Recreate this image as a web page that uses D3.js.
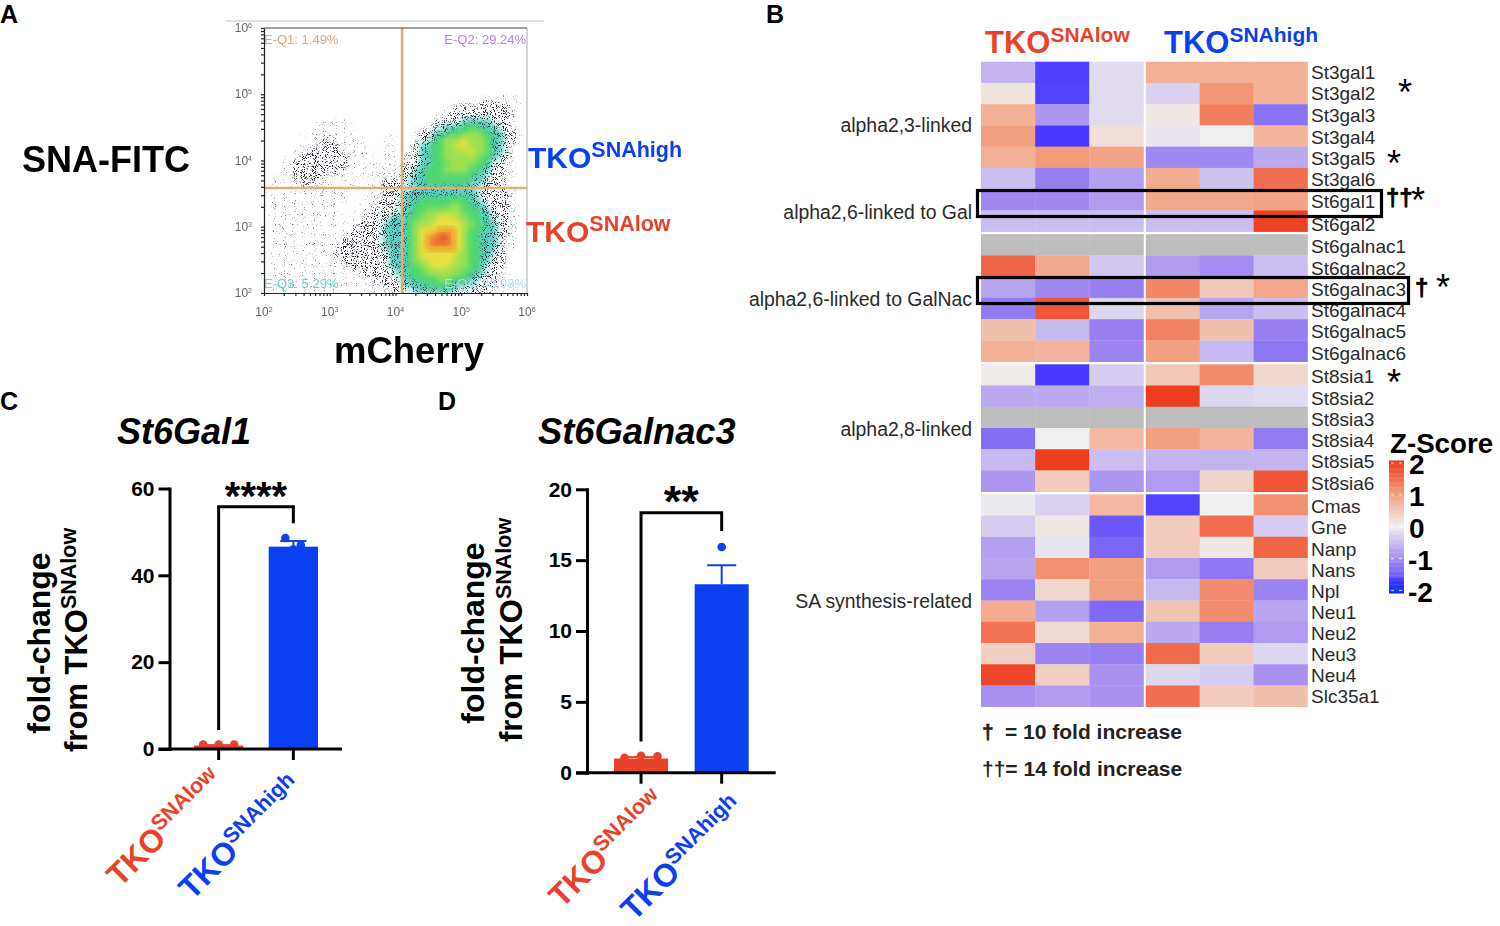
<!DOCTYPE html>
<html>
<head>
<meta charset="utf-8">
<script src="https://cdn.jsdelivr.net/npm/d3@7"></script>
<style>
  html, body { margin: 0; padding: 0; background: #fff; }
  svg { display: block; }
  text { font-family: "Liberation Sans", Arial, sans-serif; fill: #000; }
</style>
</head>
<body>
<svg id="chart" width="1500" height="926"></svg>
<script>
// ---- heatmap data (z-scores, null = no data) ----
const heatGenes = ["St3gal1","St3gal2","St3gal3","St3gal4","St3gal5","St3gal6","St6gal1","St6gal2",
  "St6galnac1","St6galnac2","St6galnac3","St6galnac4","St6galnac5","St6galnac6",
  "St8sia1","St8sia2","St8sia3","St8sia4","St8sia5","St8sia6",
  "Cmas","Gne","Nanp","Nans","Npl","Neu1","Neu2","Neu3","Neu4","Slc35a1"];
const heatGroupSizes = [8, 6, 6, 10];
const heatLow = [
  [-0.6,-1.9,-0.2],[0.15,-1.85,-0.2],[0.8,-0.9,-0.2],[1.0,-1.95,0.2],[0.8,1.05,0.95],[-0.5,-1.15,-0.8],[-1.05,-1.05,-0.85],[-0.5,-0.5,-0.5],
  [null,null,null],[1.6,0.9,-0.4],[-0.75,-1.05,-1.15],[-1.2,1.75,-0.25],[0.6,-0.55,-1.15],[0.8,0.75,-1.1],
  [0.05,-1.95,-0.35],[-0.7,-0.7,-0.65],[null,null,null],[-1.35,0,0.7],[-0.55,2,-0.5],[-0.9,0.45,-0.9],
  [-0.05,-0.3,0.7],[-0.35,0.1,-1.6],[-0.8,-0.1,-1.45],[-0.75,1.15,1.0],[-1.1,0.3,1.0],[0.85,-0.8,-1.4],[1.45,0.25,0.8],[0.4,-1.1,-1.15],[1.9,0.4,-0.95],[-0.95,-0.85,-0.95]
];
const heatHigh = [
  [0.8,0.8,0.8],[-0.3,1.1,0.8],[0.1,1.35,-1.3],[-0.1,0,0.75],[-1.05,-1.05,-0.7],[0.85,-0.45,1.5],[0.9,0.9,0.95],[-0.5,-0.5,1.95],
  [null,null,null],[-0.85,-1.0,-0.5],[1.25,0.5,0.9],[0.6,-0.75,-0.5],[1.3,0.6,-1.15],[1.0,-0.55,-1.25],
  [0.5,1.2,0.3],[2,-0.25,-0.2],[null,null,null],[1.0,0.75,-1.2],[-0.6,-0.6,-0.6],[-0.85,0.35,1.75],
  [-1.85,0,1.15],[0.45,1.5,-0.35],[0.45,0.1,1.6],[-0.85,-1.25,0.45],[-0.55,1.2,-1.1],[0.55,1.2,-0.75],[-0.7,-1.15,-0.85],[1.55,0.45,-0.25],[-0.25,-0.35,-0.95],[1.5,0.45,0.6]
];
const zStops = [-2,-1,0,1,2];
const zColors = ["#4636ff","#a58cf0","#efefef","#f3a080","#ee3d1f"];
const zTicks = [2,1,0,-1,-2];

// ---- bar data ----
const barCats = ["low","high"];
const gal1Means = [0.8, 46.6];
const gal1Errs = [0.1, 1.3];
const gal1Low = [1.0, 1.0, 1.0];
const gal1High = [48.6, 47.0, 46.0];
const gal1Ticks = [0,20,40,60];
const gal1Bracket = [4.4, 55.8, 52];
const nac3Means = [1.0, 13.3];
const nac3Errs = [0.1, 1.34];
const nac3Low = [1.05, 1.2, 1.15];
const nac3High = [15.93];
const nac3Ticks = [0,5,10,15,20];
const nac3Bracket = [2.2, 18.35, 17.05];

// ---- flow plot: density level per cell
// (0 empty, 1 sparse dots, 2 dense dots, 3 teal, 4 green, 5 lime, 6 yellow, 7 orange, 8 red), top row first
const flowDensity = [
"00000000000 00000000000 00000000000 00000000000",
"00000000000 00000000000 00000000000 00000000000",
"00000000000 00000000000 00000000000 00000000000",
"00000000000 00000000000 00000000000 00000000000",
"00000000000 00000000000 00000000000 00000000000",
"00000000000 00000000000 00000000000 00000000000",
"00000000000 00000000000 00000000000 00000000000",
"00000000000 00000000000 00000000000 00000000000",
"00000000000 00000000000 00000000000 00000000000",
"00000000000 00000000000 00000000000 00000000000",
"00000000000 00000000000 00000000000 00000000000",
"00000000000 00000000000 00000000000 00001111110",
"00000000000 00000000000 00000000001 11122222110",
"00000000000 00000000000 00000000112 22222222110",
"00000000000 00000000000 00000001122 22222222100",
"00000000010 10100000000 00000012222 33333222100",
"00000000011 11110000000 00000122333 44433322100",
"00000001111 11110000001 00012233344 45544332210",
"00000011112 11111000011 00012234555 65554332210",
"00000111122 21111100011 00123344556 65554332100",
"00000112222 22111110011 00123344555 56554332100",
"00001122222 22211110111 01223344555 55544322100",
"00011222222 22211111111 01223344455 55443221100",
"00011222222 22111110111 12233444555 54433221100",
"00111222221 11111101111 12233444444 44332221100",
"01111122211 11111011122 12333444444 43332221000",
"01111111111 11110011122 22233333333 33222221100",
"11111111111 11100011122 23333333333 33322222110",
"11111111111 11100011222 23334444444 43322222110",
"11111111111 11000111222 23344444455 44332222110",
"01111111111 11001112222 23344555555 44433222110",
"01111111111 10011122223 33445556665 54433222110",
"01101111111 10111222233 33455566666 55443322110",
"01111111111 11112222233 33456667776 54433322100",
"01111111111 11122222233 33456778876 54433321110",
"01111011111 11222222233 33456788876 54433321100",
"01111111111 12222222233 33456777776 54433321100",
"01110111111 12222222223 33456666665 54433221000",
"01111111111 11222222223 33455666665 54433221000",
"01101111111 11122222223 33445566655 54432221000",
"01111111111 11111222222 33444555555 44332211000",
"01111011111 11111112222 23344445544 43322211000",
"01111111111 11111111122 23333444433 33222211100",
"01111111111 11111111112 22233333332 22222111100"
];
const flowColors = {3:"#2cc0b0",4:"#4fd870",5:"#9fe050",6:"#e8e040",7:"#f0a030",8:"#e86030"};
const flowGateX = 12600;
const flowGateY = 3850;
const flowTicks = [1e2,1e3,1e4,1e5,1e6];
const flowTickExp = ["2","3","4","5","6"];
const flowQuads = ["E-Q1: 1.49%","E-Q2: 29.24%","E-Q3: 5.29%","E-Q4: 63.98%"];

const red = "#e8432a";
const blue = "#0a40f0";
const svg = d3.select("#chart");
const defs = svg.append("defs");

// text with a superscript part, e.g. TKO^SNAlow
function supText(x, y, main, sup, size, subSize, color, weight, rotate) {
  const t = svg.append("text")
    .attr("transform", `translate(${x},${y}) rotate(${rotate || 0})`)
    .attr("font-weight", weight || "bold")
    .style("fill", color);
  t.append("tspan").attr("font-size", size).text(main);
  t.append("tspan").attr("font-size", subSize).attr("dy", -size * 0.36).text(sup);
  return t;
}
function label(x, y, str, size, opts) {
  opts = opts || {};
  return svg.append("text").attr("x", x).attr("y", y).attr("font-size", size)
    .attr("font-weight", opts.weight || "normal")
    .attr("font-style", opts.style || "normal")
    .attr("text-anchor", opts.anchor || "start")
    .style("fill", opts.color || "#000")
    .style("stroke", opts.stroke ? (opts.color || "#000") : "none")
    .style("stroke-width", opts.stroke || 0)
    .text(str);
}

// panel letters
label(0, 23, "A", 25, {weight:"bold"});
label(766, 23, "B", 25, {weight:"bold"});
label(0, 410, "C", 25, {weight:"bold"});
label(438, 410, "D", 25, {weight:"bold"});

// ------- panel A flow plot -------
function drawFlow() {
  const blur = defs.append("filter").attr("id", "flowBlur").attr("x", "-5%").attr("y", "-5%").attr("width", "110%").attr("height", "110%");
  blur.append("feGaussianBlur").attr("stdDeviation", 3);
  const soft = defs.append("filter").attr("id", "soft");
  soft.append("feGaussianBlur").attr("stdDeviation", 0.55);

  // dot texture for the low density cells
  [["speckLow", "9 0 0 0 -5.8", "0.42"], ["speckHigh", "9 0 0 0 -5.0", "0.14"]].forEach(d => {
    const f = defs.append("filter").attr("id", d[0]).attr("x", 0).attr("y", 0).attr("width", 1).attr("height", 1)
      .attr("color-interpolation-filters", "sRGB");
    f.append("feGaussianBlur").attr("in", "SourceAlpha").attr("stdDeviation", 2.5).attr("result", "area");
    f.append("feTurbulence").attr("type", "fractalNoise").attr("baseFrequency", 1.1).attr("numOctaves", 1).attr("seed", 4).attr("result", "noise");
    f.append("feColorMatrix").attr("in", "noise").attr("type", "matrix")
      .attr("values", `0 0 0 0 ${d[2]} 0 0 0 0 ${d[2]} 0 0 0 0 ${+d[2] + 0.05} ${d[1]}`).attr("result", "dots");
    f.append("feComposite").attr("in", "dots").attr("in2", "area").attr("operator", "in");
  });

  const x = d3.scaleLog().domain([1e2, 1e6]).range([264, 527]);
  const y = d3.scaleLog().domain([1e2, 1e6]).range([293, 28]);
  const rows = flowDensity.map(r => r.replace(/ /g, "").split("").map(Number));
  const colBand = d3.scaleBand().domain(d3.range(44)).range(x.range());
  const rowBand = d3.scaleBand().domain(d3.range(44)).range(y.range().slice().reverse());
  const cells = [];
  rows.forEach((r, i) => r.forEach((v, j) => { if (v > 0) cells.push({i, j, v}); }));

  defs.append("clipPath").attr("id", "flowClip").append("rect")
    .attr("x", 264).attr("y", 28).attr("width", 263).attr("height", 265);

  svg.append("line").attr("x1", 225).attr("x2", 544).attr("y1", 21).attr("y2", 21).attr("stroke", "#c4c4c4");

  const plot = svg.append("g").attr("clip-path", "url(#flowClip)");
  const cell = (sel, data) => sel.selectAll("rect").data(data).enter().append("rect")
    .attr("x", d => colBand(d.j)).attr("y", d => rowBand(d.i))
    .attr("width", colBand.bandwidth() + 0.5).attr("height", rowBand.bandwidth() + 0.5);

  cell(plot.append("g").attr("filter", "url(#speckLow)"), cells.filter(d => d.v === 1));
  cell(plot.append("g").attr("filter", "url(#speckHigh)"), cells.filter(d => d.v >= 2));

  // colour levels stacked so that every ring blurs into the next
  d3.range(3, 9).forEach(level => {
    const layer = cell(plot.append("g").attr("filter", "url(#flowBlur)"), cells.filter(d => d.v >= level))
      .attr("fill", flowColors[level]);
    if (level === 3) {
      layer.attr("opacity", 0.75);
      // dark dots stay visible on the teal edge
      cell(plot.append("g").attr("filter", "url(#speckHigh)"), cells.filter(d => d.v === 2 || d.v === 3));
    }
  });

  // gates
  const gates = plot.append("g").attr("filter", "url(#soft)");
  gates.append("line").attr("x1", x(flowGateX)).attr("x2", x(flowGateX)).attr("y1", 28).attr("y2", 293)
    .attr("stroke", "#e0ac78").attr("stroke-width", 2.6);
  gates.append("line").attr("x1", 264).attr("x2", 527).attr("y1", y(flowGateY)).attr("y2", y(flowGateY))
    .attr("stroke", "#e0ac78").attr("stroke-width", 2.6);

  // axes
  const minor = d3.range(2, 6).flatMap(e => d3.range(1, 10).map(m => m * Math.pow(10, e))).concat([1e6]);
  const axes = svg.append("g").attr("filter", "url(#soft)");
  const ax = axes.append("g").attr("transform", "translate(0,293)")
    .call(d3.axisBottom(x).tickValues(minor).tickFormat("").tickSize(3).tickSizeOuter(0));
  const ay = axes.append("g").attr("transform", "translate(264,0)")
    .call(d3.axisLeft(y).tickValues(minor).tickFormat("").tickSize(3).tickSizeOuter(0));
  [ax, ay].forEach(a => { a.selectAll("path,line").attr("stroke", "#222").attr("stroke-width", 1.2); });
  axes.append("line").attr("x1", 264).attr("x2", 527).attr("y1", 28).attr("y2", 28).attr("stroke", "#444").attr("stroke-width", 1.2);
  axes.append("line").attr("x1", 527).attr("x2", 527).attr("y1", 28).attr("y2", 293).attr("stroke", "#aaa");

  flowTicks.forEach((v, i) => {
    const a = axes.append("text").attr("x", x(v)).attr("y", 316).attr("text-anchor", "middle").attr("font-size", 12).style("fill", "#666");
    a.append("tspan").text("10");
    a.append("tspan").attr("font-size", 7).attr("dy", -4).text(flowTickExp[i]);
    const b = axes.append("text").attr("x", 252).attr("y", y(v) + 4).attr("text-anchor", "end").attr("font-size", 12).style("fill", "#666");
    b.append("tspan").text("10");
    b.append("tspan").attr("font-size", 7).attr("dy", -4).text(flowTickExp[i]);
  });

  const qStyle = [["start", 264, 44, "#d8a878"], ["end", 526, 44, "#b880e0"], ["start", 264, 288, "#70cfc4"], ["end", 526, 288, "#b4dcec"]];
  flowQuads.forEach((q, i) => {
    axes.append("text").attr("x", qStyle[i][1]).attr("y", qStyle[i][2]).attr("text-anchor", qStyle[i][0])
      .attr("font-size", 13).style("fill", qStyle[i][3]).text(q);
  });
}
drawFlow();

label(22, 172, "SNA-FITC", 36, {weight:"bold"});
label(334, 363, "mCherry", 36.5, {weight:"bold"});
supText(528, 168, "TKO", "SNAhigh", 30, 21.5, blue);
supText(526, 242, "TKO", "SNAlow", 30, 21.5, red);

// ------- panel B heatmap -------
function drawHeat() {
  const gap = 2.6;
  const rowBand = d3.scaleBand().domain(heatGenes).range([61.7, 706.7 - gap * 3]);
  const groupOf = [];
  heatGroupSizes.forEach((n, g) => d3.range(n).forEach(() => groupOf.push(g)));
  const rowY = (name, i) => rowBand(name) + gap * groupOf[i];
  const color = d3.scaleLinear().domain(zStops).range(zColors).clamp(true);
  const colLow = d3.scaleBand().domain([0,1,2]).range([981, 1143.5]);
  const colHigh = d3.scaleBand().domain([0,1,2]).range([1145.8, 1307.5]);

  const g = svg.append("g");
  [[heatLow, colLow], [heatHigh, colHigh]].forEach(([vals, col]) => {
    heatGenes.forEach((name, i) => {
      g.selectAll(null).data(vals[i]).enter().append("rect")
        .attr("x", (d, j) => col(j)).attr("y", rowY(name, i))
        .attr("width", col.bandwidth() + 0.3).attr("height", rowBand.bandwidth() + 0.3)
        .attr("fill", d => d === null ? "#bdbdbd" : color(d));
    });
  });

  // the gene labels sit slightly off the row centres in the picture
  const labelShift = i => i < 2 ? 0 : i < 6 ? 1 : i < 8 ? i - 4 : i < 20 ? 2 : 2 - (i - 20) * 0.2;
  heatGenes.forEach((name, i) => {
    label(1311, rowY(name, i) + rowBand.bandwidth() / 2 + 6.5 + labelShift(i), name, 19, {color:"#2a2a2a"});
  });

  supText(985, 53, "TKO", "SNAlow", 31, 21, red);
  supText(1164, 53, "TKO", "SNAhigh", 31, 21, blue);

  const groupStyle = {anchor:"end", color:"#2a2a2a"};
  label(972, 132, "alpha2,3-linked", 19.4, groupStyle);
  label(972, 219, "alpha2,6-linked to Gal", 19.4, groupStyle);
  label(972, 306, "alpha2,6-linked to GalNac", 19.4, groupStyle);
  label(972, 436, "alpha2,8-linked", 19.4, groupStyle);
  label(972, 608, "SA synthesis-related", 19.4, groupStyle);

  // highlight boxes
  svg.append("rect").attr("x", 977.5).attr("y", 190.5).attr("width", 404).attr("height", 26)
    .attr("fill", "none").attr("stroke", "#000").attr("stroke-width", 3.2);
  svg.append("rect").attr("x", 977.5).attr("y", 277.5).attr("width", 431).attr("height", 26)
    .attr("fill", "none").attr("stroke", "#000").attr("stroke-width", 3.2);

  // significance marks
  label(1398, 105, "*", 36);
  label(1387, 176, "*", 36);
  label(1387, 395, "*", 36);
  label(1386, 206, "††", 24, {weight:"bold", stroke:0.7});
  label(1411, 213, "*", 36);
  label(1415, 296, "†", 24, {weight:"bold", stroke:0.7});
  label(1436, 300, "*", 36);
  label(982, 739, "†", 21, {weight:"bold", color:"#222", stroke:0.6});
  label(1005, 739, "= 10 fold increase", 21, {weight:"bold", color:"#222"});
  label(982, 776, "††= 14 fold increase", 21, {weight:"bold", color:"#222"});

  // colour bar
  const zy = d3.scaleLinear().domain([-2, 2]).range([590.6, 463]);
  const barSteps = d3.range(-2.08, 2.08, 0.04);
  svg.append("g").selectAll("rect").data(barSteps).enter().append("rect")
    .attr("x", 1389).attr("width", 15).attr("y", d => zy(d + 0.04)).attr("height", zy(0) - zy(0.04) + 0.4)
    .attr("fill", d => d < -1.6 ? d3.interpolateRgb("#0a30f0", "#4636ff")((d + 2.08) / 0.48) : color(d));
  zTicks.forEach(t => {
    svg.append("line").attr("x1", 1391).attr("x2", 1394).attr("y1", zy(t)).attr("y2", zy(t)).attr("stroke", "#fff").attr("opacity", 0.8);
    svg.append("line").attr("x1", 1399).attr("x2", 1402).attr("y1", zy(t)).attr("y2", zy(t)).attr("stroke", "#fff").attr("opacity", 0.8);
    label(t < 0 ? 1408 : 1409, zy(t) + 11, String(t), 28, {weight:"bold"});
  });
  label(1390, 453, "Z-Score", 27.7, {weight:"bold"});
}
drawHeat();

// ------- panels C and D bars -------
function drawBars(cfg) {
  const y = d3.scaleLinear().domain(cfg.domain).range(cfg.yRange);
  const x = d3.scaleBand().domain(barCats).range(cfg.xRange).paddingInner(cfg.inner);
  const g = svg.append("g");
  const colors = [red, blue];

  // error bars
  barCats.forEach((c, i) => {
    const cx = x(c) + x.bandwidth() / 2;
    g.append("line").attr("x1", cx).attr("x2", cx).attr("y1", y(cfg.means[i])).attr("y2", y(cfg.means[i] + cfg.errs[i]))
      .attr("stroke", colors[i]).attr("stroke-width", 2);
    g.append("line").attr("x1", cx - cfg.cap).attr("x2", cx + cfg.cap)
      .attr("y1", y(cfg.means[i] + cfg.errs[i])).attr("y2", y(cfg.means[i] + cfg.errs[i]))
      .attr("stroke", colors[i]).attr("stroke-width", 2);
  });
  g.selectAll(".bar").data(cfg.means).enter().append("rect").attr("class", "bar")
    .attr("x", (d, i) => x(barCats[i])).attr("width", x.bandwidth())
    .attr("y", d => y(d)).attr("height", d => y(0) - y(d))
    .attr("fill", (d, i) => colors[i]);

  // individual points
  cfg.points.forEach(([vals, offs], i) => {
    const cx = x(barCats[i]) + x.bandwidth() / 2;
    g.selectAll(null).data(vals).enter().append("circle")
      .attr("cx", (d, k) => cx + offs[k]).attr("cy", d => y(d)).attr("r", 4.3)
      .attr("fill", colors[i]);
  });

  // axes
  const ya = g.append("g").attr("transform", `translate(${cfg.axisX},0)`)
    .call(d3.axisLeft(y).tickValues(cfg.ticks).tickSize(11).tickSizeOuter(0));
  ya.selectAll("path,line").attr("stroke", "#000").attr("stroke-width", 3);
  ya.selectAll("path").attr("stroke-linecap", "square");
  ya.selectAll("text").attr("font-size", 21).attr("font-weight", "bold").attr("dx", -1).style("font-family", '"Liberation Sans", Arial, sans-serif');

  const xa = g.append("g").attr("transform", `translate(0,${y(0)})`)
    .call(d3.axisBottom(x).tickFormat("").tickSize(11).tickSizeOuter(0));
  xa.select("path").attr("d", `M${cfg.axisX - 11},0H${cfg.xEnd}`).attr("stroke", "#000").attr("stroke-width", 3);
  xa.selectAll("line").attr("stroke", "#000").attr("stroke-width", 3);

  // bracket
  const x1 = x(barCats[0]) + x.bandwidth() / 2;
  const x2 = x(barCats[1]) + x.bandwidth() / 2;
  const [b1, b2, b3] = cfg.bracket;
  const line = d3.line();
  g.append("path").attr("d", line([[x1, y(b1)], [x1, y(b2)], [x2, y(b2)], [x2, y(b3)]]))
    .attr("fill", "none").attr("stroke", "#000").attr("stroke-width", 3);
  g.append("text").attr("x", (x1 + x2) / 2).attr("y", y(b2) - cfg.starDy).attr("text-anchor", "middle")
    .attr("font-size", cfg.starSize).attr("font-weight", "bold").text(cfg.stars);
}

drawBars({
  domain: [0, 60], yRange: [749, 488.5], xRange: [194, 318], inner: 0.34, axisX: 169.5, xEnd: 342, cap: 13,
  means: gal1Means, errs: gal1Errs, ticks: gal1Ticks, bracket: gal1Bracket, stars: "****", starDy: -3, starSize: 40,
  points: [[gal1Low, [-15.5, 0, 15.5]], [gal1High, [-8, 7.5, 0]]]
});
drawBars({
  domain: [0, 20], yRange: [772.7, 489.3], xRange: [614, 748.7], inner: 0.33, axisX: 587, xEnd: 775.7, cap: 14.5,
  means: nac3Means, errs: nac3Errs, ticks: nac3Ticks, bracket: nac3Bracket, stars: "**", starDy: -4.3, starSize: 45,
  points: [[nac3Low, [-16.5, 0, 16.5]], [nac3High, [0]]]
});

label(117, 444, "St6Gal1", 36, {weight:"bold", style:"italic"});
label(538, 444, "St6Galnac3", 36.3, {weight:"bold", style:"italic"});

// rotated titles
function yTitle(x1, yc1, x2, y2) {
  svg.append("text").attr("transform", `translate(${x1},${yc1}) rotate(-90)`)
    .attr("text-anchor", "middle").attr("font-size", 32).attr("font-weight", "bold").text("fold-change");
  supText(x2, y2, "from TKO", "SNAlow", 31, 21.5, "#000", "bold", -90);
}
yTitle(50, 643, 87, 752);
yTitle(484, 633, 522, 742);

supText(120, 888, "TKO", "SNAlow", 32, 21.5, red, "bold", -45);
supText(192, 901, "TKO", "SNAhigh", 32, 21.5, blue, "bold", -45);
supText(562, 909, "TKO", "SNAlow", 32, 21.5, red, "bold", -45);
supText(634, 922, "TKO", "SNAhigh", 32, 21.5, blue, "bold", -45);
</script>
</body>
</html>
